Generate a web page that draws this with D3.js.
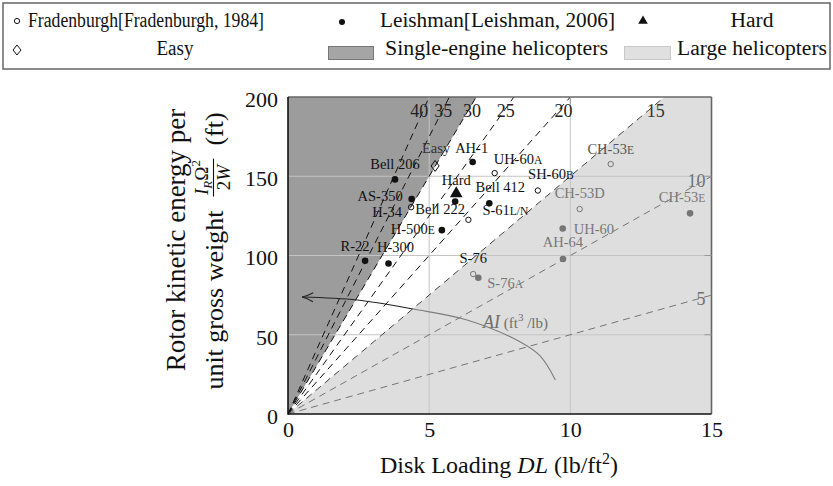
<!DOCTYPE html>
<html>
<head>
<meta charset="utf-8">
<script src="https://cdn.jsdelivr.net/npm/d3@7"></script>
<style>
  html, body { margin: 0; padding: 0; background: #fff; }
  svg { display: block; }
  text { font-family: "Liberation Serif", "DejaVu Serif", serif; }
</style>
</head>
<body>
<svg id="chart" width="833" height="486"></svg>
<script>
// ---------------- data ----------------
const xTicks = [0, 5, 10, 15];
const yTicks = [0, 50, 100, 150, 200];
const aiValues = [40, 35, 30, 25, 20, 15, 10, 5];
const singleEngineAI = 30;   // boundary of single-engine region
const largeAI = 15;          // boundary of large helicopter region

const fradenburghNames = ["UH-60A", "SH-60B", "H-34", "S-61L/N", "CH-53E", "CH-53D", "S-76"];
const fradenburghDL    = [7.32, 8.85, 4.36, 6.39, 11.43, 10.33, 6.56];
const fradenburghKE    = [152, 141, 130.5, 122.5, 157.7, 129.3, 88.3];

const leishmanNames = ["AH-1", "Bell 206", "Bell 222", "Bell 412", "AS-350", "H-500E", "R-22", "H-300", "S-76A", "UH-60", "AH-64", "CH-53E"];
const leishmanDL    = [6.54, 3.79, 5.92, 7.13, 4.38, 5.45, 2.73, 3.56, 6.74, 9.73, 9.74, 14.24];
const leishmanKE    = [159, 148, 134, 133, 135.6, 116, 96.7, 95, 86, 117, 97.8, 126.6];

const easyPoint = [5.21, 156.5];
const hardPoint = [5.96, 139];

const aiArrowDL = [9.47, 8.93, 8.23, 6.34, 4.43, 2.45, 0.5];
const aiArrowKE = [21.5, 36.6, 45.4, 59.3, 66.2, 71.9, 73.8];

const legendLabels = ["Fradenburgh[Fradenburgh, 1984]", "Leishman[Leishman, 2006]", "Hard",
                      "Easy", "Single-engine helicopters", "Large helicopters"];

// ---------------- layout / style ----------------
const svg = d3.select("#chart");
const X0 = 288, X1 = 711.5, YT = 97, YB = 414;
const x = d3.scaleLinear().domain([0, 15]).range([X0, X1]);
const y = d3.scaleLinear().domain([0, 200]).range([YB, YT]);
const FONT = '"Liberation Serif", "DejaVu Serif", serif';

// label placement (pixel offsets from the mark)
const labelStyle = {
  "F:UH-60A":  {dx: -1, dy: -9, a: "start"},
  "F:SH-60B":  {dx: 13, dy: -12, a: "middle"},
  "F:H-34":    {dx: -9, dy: 9.5, a: "end"},
  "F:S-61L/N": {dx: 14, dy: -5, a: "start"},
  "F:CH-53E":  {dx: 0, dy: -10, a: "middle", c: "#555"},
  "F:CH-53D":  {dx: 0, dy: -11, a: "middle", c: "#777"},
  "F:S-76":    {dx: 0, dy: -11, a: "middle"},
  "L:AH-1":    {dx: -1, dy: -9, a: "middle"},
  "L:Bell 206":{dx: 0, dy: -10, a: "middle"},
  "L:Bell 222":{dx: -15, dy: 12, a: "middle"},
  "L:Bell 412":{dx: 11, dy: -11, a: "middle"},
  "L:AS-350":  {dx: -9, dy: 1.5, a: "end"},
  "L:H-500E":  {dx: -7, dy: 4, a: "end"},
  "L:R-22":    {dx: -10, dy: -10, a: "middle"},
  "L:H-300":   {dx: 7, dy: -11, a: "middle"},
  "L:S-76A":   {dx: 9, dy: 10, a: "start", c: "#777"},
  "L:UH-60":   {dx: 11, dy: 5, a: "start", c: "#777"},
  "L:AH-64":   {dx: 0, dy: -12, a: "middle", c: "#777"},
  "L:CH-53E":  {dx: -8, dy: -11, a: "middle", c: "#777"}
};
const normalSuffix = new Set(["CH-53D"]);
const aiLabelStyle = {
  40: {dx: -1.5, c: "#222"}, 35: {dx: 3.5, c: "#222"}, 30: {dx: 7, c: "#222"},
  25: {dx: 5.5, c: "#222"}, 20: {dx: 10, c: "#222"}, 15: {dx: 14, c: "#333"}
};
// legend text: [x, baseline, anchor, fitted width]
const legendPos = [[28, 27, "start", 236], [380, 27, "start", 235], [752, 27, "middle", 43],
                   [175, 55, "middle", 37], [385, 55, "start", 223], [677, 55, "start", 150]];

svg.append("rect").attr("width", 833).attr("height", 486).attr("fill", "#fff");

// ---------------- legend ----------------
const lg = svg.append("g").attr("font-size", 20.5).attr("fill", "#111");
lg.append("rect").attr("x", 3).attr("y", 3).attr("width", 827).attr("height", 66)
  .attr("fill", "#fff").attr("stroke", "#666").attr("stroke-width", 1.5);
lg.append("circle").attr("cx", 17).attr("cy", 21).attr("r", 2.6)
  .attr("fill", "none").attr("stroke", "#111").attr("stroke-width", 1);
lg.append("circle").attr("cx", 342).attr("cy", 22).attr("r", 3).attr("fill", "#111");
lg.append("path").attr("d", d3.symbol(d3.symbolTriangle, 40)())
  .attr("transform", "translate(643,21)").attr("fill", "#111");
lg.append("path").attr("d", "M0,-5 L4,0 L0,5 L-4,0 Z")
  .attr("transform", "translate(17,50)").attr("fill", "none").attr("stroke", "#111").attr("stroke-width", 1);
lg.append("rect").attr("x", 328.5).attr("y", 46.5).attr("width", 45).attr("height", 13)
  .attr("fill", "#a5a5a5").attr("stroke", "#777").attr("stroke-width", 1);
lg.append("rect").attr("x", 624.5).attr("y", 46.5).attr("width", 46).attr("height", 13)
  .attr("fill", "#e0e0e0").attr("stroke", "#c8c8c8").attr("stroke-width", 1);
legendLabels.forEach((t, i) => {
  const p = legendPos[i];
  lg.append("text").attr("x", p[0]).attr("y", p[1]).attr("text-anchor", p[2])
    .attr("textLength", p[3]).attr("lengthAdjust", "spacingAndGlyphs").text(t);
});

// ---------------- plot ----------------
const defs = svg.append("defs");
defs.append("clipPath").attr("id", "plotclip").append("rect")
  .attr("x", X0).attr("y", YT).attr("width", X1 - X0).attr("height", YB - YT);
defs.append("marker").attr("id", "arrowhead").attr("viewBox", "-12 -7 14 14")
  .attr("refX", 0).attr("refY", 0).attr("markerWidth", 14).attr("markerHeight", 14)
  .attr("markerUnits", "userSpaceOnUse").attr("orient", "auto-start-reverse")
  .append("path").attr("d", "M-11,-4.5 Q-5,-1 0,0 Q-5,1 -11,4.5")
  .attr("fill", "none").attr("stroke", "#222").attr("stroke-width", 1.1);

const plot = svg.append("g").attr("clip-path", "url(#plotclip)");

// single-engine region (above AI=30 line)
plot.append("path")
  .attr("d", d3.line().x(d => x(d[0])).y(d => y(d[1]))([[0, 0], [200 / singleEngineAI, 200], [0, 200]]) + "Z")
  .attr("fill", "#9c9c9c");

// grid
plot.selectAll("line.gx").data(xTicks.slice(1, -1)).enter().append("line")
  .attr("x1", d => x(d)).attr("x2", d => x(d)).attr("y1", YT).attr("y2", YB)
  .attr("stroke", "#c4c4c4").attr("stroke-width", 1);
plot.selectAll("line.gy").data(yTicks.slice(1, -1)).enter().append("line")
  .attr("y1", d => y(d)).attr("y2", d => y(d)).attr("x1", X0).attr("x2", X1)
  .attr("stroke", "#c4c4c4").attr("stroke-width", 1);

// AI dashed lines
plot.selectAll("line.ai").data(aiValues).enter().append("line")
  .attr("x1", x(0)).attr("y1", y(0))
  .attr("x2", d => x(Math.min(15, 200 / d))).attr("y2", d => y(Math.min(200, 15 * d)))
  .attr("stroke", "#111").attr("stroke-width", 1).attr("stroke-dasharray", "7,5");

// AI arrow curve
const arrowPts = aiArrowDL.map((d, i) => [d, aiArrowKE[i]]);
plot.append("path")
  .attr("d", d3.line().curve(d3.curveCatmullRom).x(d => x(d[0])).y(d => y(d[1]))(arrowPts))
  .attr("fill", "none").attr("stroke", "#222").attr("stroke-width", 1.1)
  .attr("marker-end", "url(#arrowhead)");

// points
const fPts = fradenburghNames.map((n, i) => ({n, s: "F", x: fradenburghDL[i], y: fradenburghKE[i]}));
const lPts = leishmanNames.map((n, i) => ({n, s: "L", x: leishmanDL[i], y: leishmanKE[i]}));
plot.selectAll("circle.f").data(fPts).enter().append("circle")
  .attr("cx", d => x(d.x)).attr("cy", d => y(d.y)).attr("r", 2.7)
  .attr("fill", "none").attr("stroke", "#111").attr("stroke-width", 1);
plot.selectAll("circle.l").data(lPts).enter().append("circle")
  .attr("cx", d => x(d.x)).attr("cy", d => y(d.y)).attr("r", 3.3)
  .attr("fill", "#111");
plot.append("path").attr("d", "M0,-5.5 L4,0 L0,5.5 L-4,0 Z")
  .attr("transform", `translate(${x(easyPoint[0])},${y(easyPoint[1])})`)
  .attr("fill", "none").attr("stroke", "#111").attr("stroke-width", 1);
plot.append("path").attr("d", d3.symbol(d3.symbolTriangle, 70)())
  .attr("transform", `translate(${x(hardPoint[0])},${y(hardPoint[1])})`).attr("fill", "#111");

// large helicopter region (semi transparent overlay, below AI=15 line)
plot.append("path")
  .attr("d", d3.line().x(d => x(d[0])).y(d => y(d[1]))([[0, 0], [15, 0], [15, 200], [200 / largeAI, 200]]) + "Z")
  .attr("fill", "rgb(196,196,196)").attr("fill-opacity", 0.56);

// point labels
const labels = svg.append("g").attr("font-size", 14.5);
[...fPts, ...lPts].forEach(d => {
  const st = labelStyle[d.s + ":" + d.n];
  const t = labels.append("text").attr("x", x(d.x) + st.dx).attr("y", y(d.y) + st.dy)
    .attr("text-anchor", st.a).attr("fill", st.c || "#111");
  const m = d.n.match(/^(.*\d)([A-Z][A-Z\/]*)$/);
  if (m && !normalSuffix.has(d.n)) {
    t.append("tspan").text(m[1]);
    t.append("tspan").attr("font-size", 11.5).text(m[2]);
  } else {
    t.text(d.n);
  }
});
labels.append("text").attr("x", x(easyPoint[0]) + 1).attr("y", y(easyPoint[1]) - 13)
  .attr("text-anchor", "middle").attr("fill", "#333").text("Easy");
labels.append("text").attr("x", x(hardPoint[0])).attr("y", y(hardPoint[1]) - 9)
  .attr("text-anchor", "middle").attr("fill", "#111").text("Hard");

// AI labels
const aiG = svg.append("g").attr("font-size", 18);
aiValues.filter(v => v >= 15).forEach(v => {
  const st = aiLabelStyle[v];
  aiG.append("text").attr("x", x(188 / v) + st.dx).attr("y", y(188) + 0.5)
    .attr("text-anchor", "middle").attr("fill", st.c).text(v);
});
aiValues.filter(v => v < 15).forEach(v => {
  aiG.append("text").attr("x", X1 - 6).attr("y", y(15 * v) + (v === 10 ? 11 : 10))
    .attr("text-anchor", "end").attr("fill", "#707070").text(v);
});
const aiT = aiG.append("text").attr("x", 483).attr("y", 328).attr("fill", "#6e6e6e");
aiT.append("tspan").attr("font-style", "italic").text("AI");
aiT.append("tspan").attr("font-size", 15).text(" (ft");
aiT.append("tspan").attr("font-size", 11).attr("dy", -7).text("3");
aiT.append("tspan").attr("font-size", 15).attr("dy", 7).text(" /lb)");

// ---------------- frame & axes ----------------
const frame = svg.append("g");
[[X0, YT, X1, YT], [X1, YT, X1, YB]].forEach(s =>
  frame.append("line").attr("x1", s[0]).attr("y1", s[1]).attr("x2", s[2]).attr("y2", s[3])
    .attr("stroke", "#666").attr("stroke-width", 1.6));
frame.selectAll("line.rt").data(yTicks.slice(1, -1)).enter().append("line")
  .attr("x1", X1 - 7).attr("x2", X1).attr("y1", d => y(d)).attr("y2", d => y(d))
  .attr("stroke", "#999").attr("stroke-width", 1);
frame.selectAll("line.tt").data(xTicks.slice(1, -1)).enter().append("line")
  .attr("y1", YT).attr("y2", YT + 7).attr("x1", d => x(d)).attr("x2", d => x(d))
  .attr("stroke", "#999").attr("stroke-width", 1);
frame.append("line").attr("x1", X0).attr("x2", X0).attr("y1", YT).attr("y2", YB + 0.8)
  .attr("stroke", "#111").attr("stroke-width", 1.6);
frame.append("line").attr("x1", X0).attr("x2", X1).attr("y1", YB).attr("y2", YB)
  .attr("stroke", "#111").attr("stroke-width", 1.6);

const xAxis = d3.axisBottom(x).tickValues(xTicks).tickSize(0).tickPadding(0);
const gx = svg.append("g").attr("transform", `translate(0,${YB})`).call(xAxis);
gx.select(".domain").remove();
gx.selectAll("text").attr("font-family", FONT).attr("font-size", 22).attr("fill", "#111")
  .attr("dy", null).attr("y", 23);

const yAxis = d3.axisLeft(y).tickValues(yTicks).tickSize(0).tickPadding(0);
const gy = svg.append("g").attr("transform", `translate(${X0},0)`).call(yAxis);
gy.select(".domain").remove();
gy.selectAll("text").attr("font-family", FONT).attr("font-size", 22).attr("fill", "#111")
  .attr("x", -10).attr("dy", "0.42em");

// x axis title
const xt = svg.append("text").attr("x", 499).attr("y", 473).attr("text-anchor", "middle")
  .attr("font-size", 24).attr("fill", "#111");
xt.append("tspan").text("Disk Loading ");
xt.append("tspan").attr("font-style", "italic").text("DL");
xt.append("tspan").text(" (lb/ft");
xt.append("tspan").attr("font-size", 16).attr("dy", -9).text("2");
xt.append("tspan").attr("dy", 9).text(")");

// y axis title line 1
svg.append("text").attr("transform", "translate(185,240) rotate(-90)")
  .attr("text-anchor", "middle").attr("font-size", 27).attr("fill", "#111")
  .text("Rotor kinetic energy per");

// y axis title line 2 (with fraction)
const y2 = svg.append("g").attr("font-size", 26).attr("fill", "#111");
const inner = y2.append("g");
const t1 = inner.append("text").attr("x", 0).attr("y", 0).text("unit gross weight");
let cx = t1.node().getComputedTextLength() + 14;
const num = inner.append("text").attr("font-size", 19).attr("y", -15);
num.append("tspan").attr("font-style", "italic").text("I");
num.append("tspan").attr("font-style", "italic").attr("font-size", 13).attr("dy", 4).text("R");
num.append("tspan").attr("dy", -4).text("Ω");
num.append("tspan").attr("font-size", 13).attr("dy", -8).text("2");
const den = inner.append("text").attr("font-size", 19).attr("y", 7);
den.append("tspan").text("2");
den.append("tspan").attr("font-style", "italic").text("W");
const wn = num.node().getComputedTextLength(), wd = den.node().getComputedTextLength();
const fw = Math.max(wn, wd) + 3;
num.attr("x", cx + (fw - wn) / 2);
den.attr("x", cx + (fw - wd) / 2);
inner.append("line").attr("x1", cx).attr("x2", cx + fw).attr("y1", -9.5).attr("y2", -9.5)
  .attr("stroke", "#111").attr("stroke-width", 1.1);
cx += fw + 13;
const t3 = inner.append("text").attr("x", cx).attr("y", 0).text("(ft)");
const total = cx + t3.node().getComputedTextLength();
y2.attr("transform", `translate(223,${251 + total / 2}) rotate(-90)`);
</script>
</body>
</html>
